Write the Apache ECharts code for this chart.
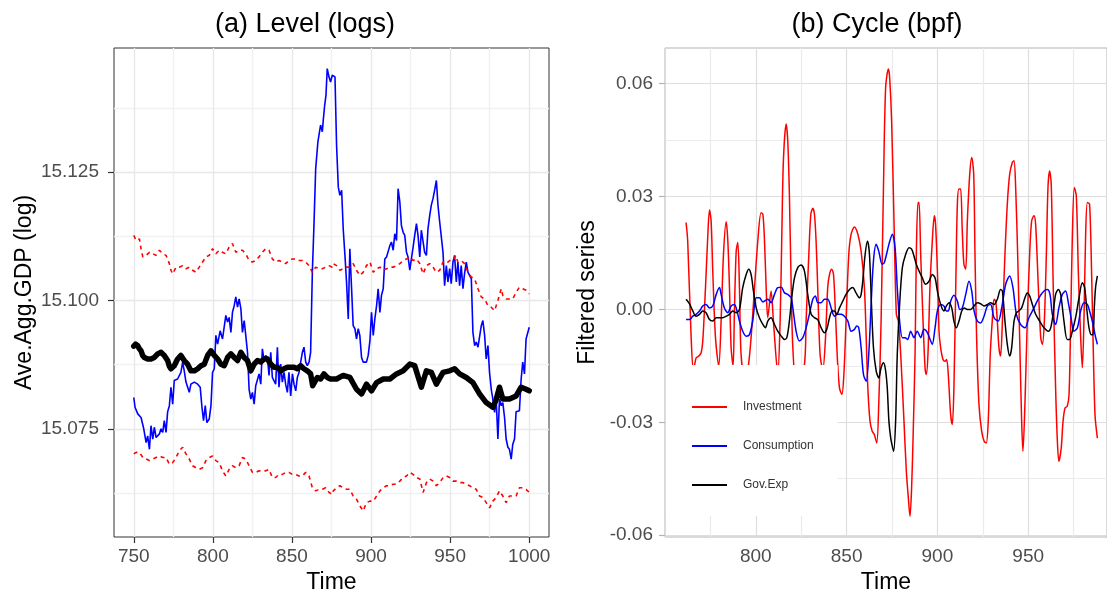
<!DOCTYPE html>
<html>
<head>
<meta charset="utf-8">
<script src="https://cdn.jsdelivr.net/npm/echarts@6/dist/echarts.min.js"></script>
<style>
  html, body { margin: 0; padding: 0; background: #fff; }
  #main { width: 1107px; height: 591px; }
</style>
</head>
<body>
<div id="main"></div>
<script>
// (a) level in logs: [time, value]
const levelBlue = [[750.0,15.0811],[750.8,15.0792],[752.5,15.0779],[754.6,15.0772],[756.3,15.0750],[757.8,15.0723],[758.8,15.0736],[759.9,15.0710],[760.9,15.0756],[762.0,15.0730],[763.0,15.0753],[764.1,15.0733],[766.2,15.0740],[767.2,15.0750],[768.3,15.0743],[769.3,15.0766],[770.4,15.0743],[771.4,15.0783],[772.5,15.0795],[773.5,15.0831],[774.6,15.0798],[775.6,15.0844],[777.7,15.0847],[779.8,15.0860],[780.9,15.0880],[781.9,15.0863],[783.0,15.0841],[784.0,15.0844],[785.1,15.0821],[786.1,15.0837],[788.3,15.0841],[790.4,15.0837],[792.0,15.0831],[793.1,15.0792],[794.1,15.0766],[795.2,15.0795],[796.2,15.0762],[797.7,15.0769],[798.8,15.0795],[799.8,15.0860],[800.9,15.0867],[801.9,15.0932],[803.0,15.0915],[804.6,15.0941],[806.1,15.0925],[808.2,15.0971],[809.3,15.0958],[810.3,15.0967],[811.4,15.0938],[812.4,15.0977],[813.5,15.0990],[814.5,15.1007],[815.6,15.0987],[816.6,15.1003],[817.7,15.0984],[818.7,15.0938],[819.8,15.0961],[820.8,15.0932],[821.9,15.0899],[822.9,15.0827],[824.0,15.0808],[825.0,15.0821],[826.1,15.0798],[827.1,15.0834],[828.2,15.0837],[829.2,15.0857],[830.3,15.0837],[831.3,15.0906],[832.4,15.0883],[833.4,15.0893],[834.5,15.0889],[835.5,15.0854],[836.6,15.0899],[837.6,15.0850],[838.7,15.0847],[839.7,15.0837],[840.8,15.0909],[841.8,15.0831],[842.9,15.0876],[843.9,15.0841],[845.0,15.0860],[846.0,15.0837],[847.1,15.0821],[848.1,15.0860],[849.2,15.0814],[850.3,15.0857],[851.3,15.0837],[852.4,15.0824],[853.4,15.0850],[854.5,15.0860],[855.5,15.0880],[856.6,15.0899],[857.6,15.0909],[858.7,15.0880],[859.7,15.0873],[860.8,15.0880],[861.8,15.0899],[862.9,15.1055],[863.9,15.1146],[865.0,15.1257],[866.4,15.1309],[868.1,15.1342],[869.2,15.1329],[869.8,15.1352],[870.7,15.1381],[871.5,15.1400],[872.3,15.1452],[873.4,15.1436],[874.4,15.1426],[875.5,15.1439],[876.5,15.1436],[877.2,15.1436],[878.2,15.1303],[879.3,15.1221],[880.3,15.1205],[881.4,15.1215],[882.4,15.1140],[883.5,15.1088],[884.5,15.1036],[885.6,15.0964],[886.6,15.1101],[887.7,15.1023],[888.7,15.0951],[889.8,15.0945],[890.8,15.0925],[891.9,15.0945],[892.9,15.0932],[894.0,15.0889],[895.0,15.0880],[896.1,15.0883],[897.1,15.0880],[898.2,15.0893],[899.3,15.0922],[900.3,15.0977],[901.4,15.0932],[902.4,15.0964],[903.5,15.0990],[904.5,15.1023],[905.6,15.0977],[906.6,15.1010],[907.7,15.1023],[908.7,15.1081],[909.8,15.1085],[910.8,15.1088],[911.9,15.1107],[912.9,15.1114],[914.0,15.1098],[915.0,15.1130],[916.1,15.1117],[917.1,15.1218],[918.2,15.1192],[919.2,15.1146],[920.3,15.1133],[921.3,15.1127],[922.4,15.1094],[923.4,15.1085],[924.5,15.1059],[925.5,15.1081],[926.6,15.1104],[927.6,15.1127],[928.7,15.1150],[929.7,15.1127],[930.8,15.1085],[931.8,15.1137],[932.9,15.1137],[933.9,15.1094],[935.0,15.1088],[936.0,15.1140],[937.1,15.1166],[938.1,15.1186],[939.2,15.1199],[940.2,15.1215],[941.3,15.1234],[942.3,15.1186],[943.4,15.1153],[944.4,15.1150],[945.5,15.1094],[946.5,15.1029],[947.6,15.1068],[948.6,15.1036],[949.7,15.1062],[950.7,15.1033],[951.8,15.1075],[952.8,15.1088],[953.9,15.1036],[954.9,15.1075],[956.0,15.1029],[957.0,15.1068],[958.1,15.1023],[959.1,15.1052],[960.2,15.1075],[961.3,15.1055],[962.3,15.1049],[963.4,15.1042],[964.4,15.0938],[965.5,15.0912],[966.5,15.0919],[967.6,15.0909],[968.6,15.0912],[969.7,15.0951],[970.7,15.0961],[971.8,15.0932],[972.8,15.0886],[973.9,15.0912],[974.9,15.0860],[976.0,15.0827],[977.0,15.0808],[978.1,15.0782],[979.1,15.0808],[980.2,15.0730],[981.2,15.0808],[982.3,15.0795],[983.3,15.0801],[984.4,15.0772],[985.4,15.0730],[986.5,15.0714],[987.5,15.0710],[988.6,15.0691],[989.6,15.0720],[990.7,15.0730],[991.7,15.0783],[992.8,15.0785],[993.8,15.0785],[994.9,15.0847],[995.9,15.0880],[997.0,15.0857],[998.0,15.0925],[999.1,15.0928],[1000.0,15.0948]];

const levelBlack = [[750.0,15.0911],[751.2,15.0915],[752.5,15.0912],[753.5,15.0906],[754.6,15.0902],[755.6,15.0893],[756.7,15.0889],[758.8,15.0886],[760.9,15.0886],[763.0,15.0889],[765.1,15.0896],[767.2,15.0899],[769.3,15.0893],[771.4,15.0883],[772.5,15.0872],[773.5,15.0867],[775.6,15.0873],[777.7,15.0886],[779.8,15.0893],[781.9,15.0883],[784.0,15.0876],[786.1,15.0863],[788.3,15.0863],[790.4,15.0867],[792.5,15.0873],[794.6,15.0876],[796.7,15.0893],[798.8,15.0902],[800.9,15.0893],[803.0,15.0886],[805.1,15.0876],[807.2,15.0873],[809.3,15.0889],[811.4,15.0896],[813.5,15.0889],[815.6,15.0883],[817.7,15.0899],[819.8,15.0889],[821.9,15.0883],[824.0,15.0863],[826.1,15.0876],[828.2,15.0883],[830.3,15.0880],[832.4,15.0886],[834.5,15.0886],[836.6,15.0876],[838.7,15.0870],[840.8,15.0870],[842.9,15.0863],[845.0,15.0867],[847.1,15.0870],[849.2,15.0870],[851.3,15.0870],[853.4,15.0867],[855.5,15.0873],[857.6,15.0867],[859.7,15.0863],[861.8,15.0857],[863.1,15.0834],[866.0,15.0850],[868.1,15.0847],[870.2,15.0857],[872.3,15.0850],[874.4,15.0847],[878.2,15.0847],[882.4,15.0854],[886.6,15.0850],[890.8,15.0827],[894.0,15.0818],[897.1,15.0837],[900.3,15.0824],[903.5,15.0840],[907.7,15.0847],[911.9,15.0847],[916.1,15.0857],[920.3,15.0863],[924.5,15.0876],[927.6,15.0873],[931.8,15.0831],[935.0,15.0863],[938.1,15.0860],[941.3,15.0837],[945.5,15.0860],[949.7,15.0863],[952.8,15.0867],[956.0,15.0857],[960.2,15.0850],[964.4,15.0840],[968.6,15.0818],[972.8,15.0801],[977.0,15.0792],[979.0,15.0806],[981.2,15.0831],[983.3,15.0808],[987.5,15.0808],[991.7,15.0814],[994.9,15.0831],[998.0,15.0827],[1000.0,15.0824]];

const bandUpper = [[750.0,15.1127],[751.5,15.1117],[753.6,15.1120],[754.6,15.1101],[755.7,15.1085],[757.8,15.1088],[759.9,15.1094],[762.0,15.1091],[764.1,15.1088],[766.2,15.1098],[768.3,15.1091],[770.4,15.1088],[772.5,15.1072],[773.5,15.1059],[774.6,15.1052],[776.7,15.1065],[778.8,15.1065],[780.9,15.1068],[783.0,15.1062],[785.1,15.1065],[787.2,15.1059],[789.3,15.1055],[791.4,15.1065],[793.5,15.1075],[795.6,15.1085],[797.7,15.1088],[799.8,15.1101],[801.9,15.1091],[804.0,15.1098],[806.1,15.1094],[808.2,15.1091],[810.3,15.1104],[812.4,15.1111],[814.5,15.1094],[816.6,15.1098],[818.7,15.1098],[820.8,15.1091],[822.9,15.1078],[825.0,15.1075],[827.1,15.1078],[829.2,15.1085],[831.3,15.1094],[833.4,15.1101],[835.5,15.1098],[837.6,15.1081],[839.7,15.1075],[841.8,15.1078],[843.9,15.1075],[846.0,15.1072],[848.1,15.1078],[850.3,15.1081],[852.4,15.1081],[854.5,15.1078],[856.6,15.1078],[858.7,15.1075],[860.8,15.1068],[862.9,15.1055],[865.0,15.1065],[867.1,15.1062],[869.2,15.1062],[871.3,15.1065],[873.4,15.1068],[875.5,15.1065],[876.1,15.1072],[878.2,15.1068],[880.3,15.1059],[882.4,15.1062],[884.5,15.1065],[886.6,15.1065],[888.7,15.1072],[890.8,15.1059],[892.9,15.1049],[895.0,15.1055],[897.1,15.1068],[899.3,15.1075],[901.4,15.1055],[903.5,15.1062],[905.6,15.1065],[907.7,15.1059],[909.8,15.1062],[911.9,15.1065],[914.0,15.1065],[916.1,15.1068],[918.2,15.1072],[920.3,15.1078],[922.4,15.1081],[924.5,15.1085],[926.6,15.1078],[928.7,15.1081],[930.8,15.1072],[932.9,15.1052],[935.0,15.1068],[937.1,15.1072],[939.2,15.1065],[941.3,15.1055],[943.4,15.1059],[945.5,15.1075],[947.6,15.1072],[949.7,15.1078],[951.8,15.1078],[953.5,15.1088],[954.9,15.1075],[957.0,15.1078],[959.1,15.1072],[961.3,15.1055],[963.4,15.1046],[965.5,15.1042],[967.6,15.1023],[969.7,15.1007],[971.8,15.1003],[973.9,15.0990],[976.0,15.0987],[978.1,15.0980],[980.2,15.1000],[982.3,15.1023],[983.3,15.1010],[985.4,15.1003],[987.5,15.1003],[989.6,15.1003],[991.7,15.1016],[993.8,15.1026],[995.9,15.1023],[998.0,15.1020],[1000.0,15.1013]];

const bandLower = [[750.0,15.0701],[751.5,15.0704],[753.6,15.0704],[755.7,15.0694],[757.8,15.0691],[759.9,15.0688],[762.0,15.0691],[764.1,15.0694],[766.2,15.0697],[768.3,15.0694],[770.4,15.0694],[772.5,15.0681],[774.6,15.0684],[776.7,15.0694],[778.8,15.0707],[780.9,15.0714],[783.0,15.0701],[785.1,15.0691],[787.2,15.0678],[789.3,15.0674],[791.4,15.0671],[793.5,15.0674],[795.6,15.0688],[797.7,15.0694],[799.8,15.0697],[801.9,15.0688],[804.0,15.0684],[806.1,15.0668],[808.2,15.0658],[810.3,15.0671],[812.4,15.0678],[814.5,15.0674],[816.6,15.0678],[818.7,15.0694],[820.8,15.0691],[822.9,15.0678],[825.0,15.0665],[827.1,15.0665],[829.2,15.0668],[831.3,15.0668],[833.4,15.0668],[835.5,15.0671],[837.6,15.0655],[839.7,15.0655],[841.8,15.0661],[843.9,15.0661],[846.0,15.0665],[848.1,15.0665],[850.3,15.0661],[852.4,15.0661],[854.5,15.0658],[856.6,15.0658],[858.7,15.0665],[860.8,15.0658],[862.9,15.0635],[865.0,15.0629],[867.1,15.0632],[869.2,15.0632],[871.3,15.0635],[873.4,15.0626],[875.5,15.0622],[876.1,15.0629],[878.2,15.0635],[880.3,15.0639],[882.4,15.0635],[884.5,15.0632],[886.6,15.0632],[888.7,15.0619],[890.8,15.0613],[892.9,15.0600],[895.0,15.0590],[897.1,15.0606],[899.3,15.0609],[901.4,15.0609],[903.5,15.0619],[905.6,15.0629],[907.7,15.0635],[909.8,15.0639],[911.9,15.0639],[914.0,15.0642],[916.1,15.0642],[918.2,15.0648],[920.3,15.0655],[922.4,15.0658],[924.5,15.0665],[926.6,15.0661],[928.7,15.0655],[930.8,15.0652],[932.9,15.0626],[935.0,15.0645],[937.1,15.0652],[939.2,15.0648],[941.3,15.0639],[943.4,15.0645],[945.5,15.0655],[947.6,15.0658],[949.7,15.0655],[951.8,15.0648],[953.9,15.0648],[956.0,15.0645],[958.1,15.0645],[960.2,15.0642],[962.3,15.0639],[964.4,15.0635],[966.5,15.0632],[968.6,15.0619],[970.7,15.0616],[972.8,15.0606],[974.9,15.0596],[977.0,15.0609],[979.1,15.0616],[981.2,15.0629],[983.3,15.0619],[985.4,15.0606],[987.5,15.0619],[989.6,15.0619],[991.7,15.0619],[993.8,15.0635],[995.9,15.0635],[998.0,15.0632],[1000.0,15.0626]];

// (b) band-pass filtered cycles: [time, value]
const cycInvest = [[761.6,0.0231],[762.5,0.0182],[764.4,-0.0075],[765.7,-0.0165],[767.1,-0.0129],[768.6,-0.0124],[769.9,-0.0115],[770.8,-0.0084],[772.3,0.0058],[773.6,0.0200],[774.5,0.0264],[775.4,0.0235],[776.3,0.0102],[777.8,-0.0075],[779.6,-0.0150],[780.9,-0.0031],[782.2,0.0146],[783.7,0.0233],[784.6,0.0182],[785.5,0.0058],[786.4,-0.0102],[787.5,-0.0150],[788.2,-0.0013],[789.2,0.0155],[790.1,0.0178],[791.0,0.0058],[791.9,-0.0120],[793.8,-0.0180],[795.6,-0.0160],[797.4,-0.0075],[799.3,0.0058],[801.1,0.0182],[802.9,0.0257],[803.9,0.0253],[804.8,0.0182],[805.7,0.0058],[806.6,-0.0022],[808.4,0.0049],[809.7,-0.0031],[812.1,-0.0170],[813.4,-0.0031],[814.3,0.0191],[815.2,0.0395],[816.7,0.0493],[817.6,0.0448],[818.5,0.0306],[819.5,0.0058],[820.4,-0.0102],[822.2,-0.0200],[824.0,-0.0180],[826.8,-0.0146],[827.7,-0.0031],[829.2,0.0146],[830.3,0.0253],[831.4,0.0269],[832.3,0.0253],[833.2,0.0182],[834.1,0.0058],[835.4,-0.0120],[836.9,-0.0160],[838.4,-0.0075],[839.6,0.0058],[840.6,0.0093],[841.8,0.0107],[842.8,0.0093],[843.9,-0.0013],[845.0,-0.0138],[846.1,-0.0209],[847.4,-0.0226],[848.5,-0.0173],[849.7,-0.0031],[851.2,0.0146],[852.5,0.0200],[854.3,0.0219],[856.2,0.0200],[858.0,0.0155],[859.8,0.0058],[860.8,-0.0075],[861.7,-0.0209],[862.9,-0.0297],[864.1,-0.0324],[865.3,-0.0333],[866.6,-0.0355],[867.7,-0.0253],[869.0,-0.0031],[870.3,0.0324],[871.5,0.0590],[873.0,0.0639],[873.7,0.0617],[874.8,0.0501],[876.1,0.0235],[877.4,-0.0013],[878.5,-0.0031],[879.8,-0.0120],[881.6,-0.0297],[882.9,-0.0430],[884.0,-0.0501],[884.9,-0.0550],[885.8,-0.0475],[886.6,-0.0342],[887.7,-0.0120],[888.4,0.0146],[889.3,0.0284],[889.9,0.0284],[890.8,0.0146],[892.1,-0.0031],[893.2,-0.0155],[893.9,-0.0173],[894.8,-0.0120],[895.9,0.0058],[897.2,0.0182],[898.3,0.0249],[899.0,0.0226],[900.0,0.0102],[900.9,-0.0058],[901.8,-0.0102],[903.1,-0.0133],[904.2,-0.0138],[905.1,-0.0133],[906.0,-0.0173],[907.3,-0.0280],[908.2,-0.0306],[909.1,-0.0209],[910.1,0.0058],[911.0,0.0280],[911.9,0.0320],[912.8,0.0320],[913.7,0.0209],[914.6,0.0120],[915.6,0.0107],[916.5,0.0235],[917.8,0.0359],[918.9,0.0404],[920.0,0.0359],[920.7,0.0146],[921.6,-0.0075],[922.9,-0.0253],[924.4,-0.0324],[925.8,-0.0351],[926.9,-0.0355],[928.0,-0.0297],[929.1,-0.0120],[930.2,-0.0031],[931.2,0.0027],[932.1,0.0022],[933.0,-0.0031],[933.9,-0.0102],[934.8,-0.0124],[935.8,-0.0031],[937.2,0.0146],[938.5,0.0280],[939.8,0.0359],[941.3,0.0391],[942.2,0.0395],[943.1,0.0324],[944.2,0.0146],[945.3,-0.0075],[946.4,-0.0297],[947.1,-0.0377],[948.2,-0.0253],[949.5,-0.0031],[950.8,0.0146],[951.9,0.0235],[953.2,0.0249],[954.1,0.0226],[955.6,0.0058],[956.9,-0.0075],[957.8,-0.0093],[958.9,-0.0031],[960.0,0.0146],[960.9,0.0324],[961.8,0.0368],[962.7,0.0333],[963.8,0.0058],[965.1,-0.0209],[966.0,-0.0342],[966.9,-0.0404],[968.2,-0.0368],[969.2,-0.0297],[970.3,-0.0262],[971.5,-0.0257],[972.5,-0.0226],[973.4,-0.0031],[974.3,0.0191],[975.4,0.0324],[976.5,0.0302],[977.6,0.0102],[978.9,-0.0075],[979.8,-0.0155],[980.7,-0.0031],[981.6,0.0191],[982.6,0.0284],[983.8,0.0280],[984.9,0.0102],[985.7,-0.0075],[986.8,-0.0280],[988.1,-0.0342]];

const cycCons = [[761.6,-0.0027],[763.5,-0.0027],[765.3,-0.0018],[767.1,-0.0013],[769.0,-0.0004],[770.8,0.0009],[772.6,0.0013],[774.5,0.0004],[776.3,0.0009],[778.2,0.0040],[780.0,0.0058],[780.9,0.0040],[782.7,0.0004],[784.6,-0.0009],[786.4,0.0009],[788.2,0.0013],[789.2,0.0004],[791.0,-0.0031],[792.8,-0.0058],[794.7,-0.0071],[796.5,-0.0067],[798.3,-0.0031],[800.2,0.0031],[802.0,0.0031],[803.9,0.0020],[806.6,0.0027],[808.4,0.0018],[810.3,0.0040],[812.1,0.0058],[814.0,0.0059],[815.8,0.0044],[817.6,0.0040],[819.5,0.0031],[820.4,0.0004],[822.2,-0.0058],[824.0,-0.0084],[825.9,-0.0075],[827.7,-0.0049],[829.5,-0.0013],[831.4,0.0027],[832.8,0.0036],[834.1,0.0018],[836.0,0.0018],[837.8,0.0027],[839.6,0.0027],[841.5,0.0004],[843.3,-0.0018],[845.2,-0.0013],[847.0,-0.0013],[848.8,-0.0018],[850.7,-0.0031],[852.5,-0.0058],[854.3,-0.0053],[855.6,-0.0044],[856.7,-0.0049],[858.0,-0.0102],[859.3,-0.0173],[860.8,-0.0191],[862.2,-0.0120],[863.5,0.0013],[864.8,0.0129],[866.3,0.0173],[867.7,0.0155],[869.6,0.0120],[870.8,0.0125],[873.3,0.0173],[875.2,0.0200],[876.7,0.0164],[877.9,0.0058],[879.2,-0.0031],[880.7,-0.0075],[882.2,-0.0075],[883.6,-0.0080],[885.3,-0.0058],[887.1,-0.0075],[888.9,-0.0058],[890.8,-0.0075],[892.6,-0.0053],[894.5,-0.0062],[896.3,-0.0084],[897.2,-0.0093],[898.7,-0.0049],[900.0,-0.0004],[901.8,0.0013],[903.6,0.0009],[904.9,-0.0004],[906.0,-0.0004],[907.3,0.0022],[909.1,0.0038],[911.0,0.0022],[912.3,0.0000],[913.7,0.0004],[915.6,0.0040],[917.4,0.0075],[918.9,0.0049],[920.2,-0.0004],[922.0,-0.0031],[923.8,-0.0036],[925.7,-0.0018],[927.5,0.0009],[929.3,0.0013],[931.2,-0.0022],[933.5,-0.0031],[935.4,0.0004],[937.6,0.0067],[939.8,0.0089],[941.6,0.0058],[943.5,-0.0013],[945.8,-0.0040],[948.2,-0.0049],[950.4,-0.0022],[953.2,0.0004],[955.9,0.0031],[958.7,0.0049],[960.5,0.0053],[962.0,0.0040],[963.3,-0.0013],[965.1,-0.0040],[966.9,0.0004],[968.8,0.0040],[970.6,0.0049],[972.1,0.0018],[973.6,-0.0022],[975.2,-0.0058],[977.1,-0.0049],[978.9,-0.0004],[980.7,0.0018],[982.6,0.0013],[983.8,-0.0004],[985.3,-0.0031],[986.8,-0.0067],[988.1,-0.0093]];

const cycGov = [[761.6,0.0027],[763.5,0.0015],[765.3,-0.0004],[767.1,-0.0018],[769.0,-0.0013],[770.8,-0.0004],[772.6,-0.0009],[774.5,-0.0027],[776.3,-0.0031],[778.2,-0.0022],[780.0,-0.0022],[781.8,-0.0022],[783.7,-0.0018],[785.5,-0.0013],[787.3,-0.0004],[789.2,-0.0009],[791.0,0.0000],[792.8,0.0058],[794.7,0.0093],[796.1,0.0107],[797.4,0.0093],[798.7,0.0049],[800.2,0.0004],[802.0,-0.0022],[803.9,-0.0040],[805.3,-0.0049],[806.6,-0.0031],[808.4,-0.0022],[810.3,-0.0040],[812.1,-0.0058],[814.0,-0.0071],[815.8,-0.0080],[817.1,-0.0075],[818.5,-0.0031],[820.0,0.0040],[821.3,0.0084],[823.1,0.0111],[825.0,0.0118],[826.8,0.0102],[828.6,0.0040],[830.5,-0.0013],[832.3,-0.0022],[834.1,-0.0027],[836.0,-0.0049],[837.8,-0.0062],[839.1,-0.0053],[840.6,-0.0022],[842.0,-0.0004],[843.3,-0.0004],[844.6,-0.0013],[846.1,0.0004],[847.9,0.0022],[849.7,0.0040],[851.6,0.0053],[853.4,0.0058],[855.2,0.0044],[857.1,0.0031],[858.0,0.0040],[858.9,0.0075],[860.2,0.0146],[861.5,0.0182],[862.6,0.0146],[863.7,0.0013],[864.8,-0.0102],[866.3,-0.0164],[867.7,-0.0182],[869.0,-0.0155],[870.3,-0.0142],[871.4,-0.0160],[872.4,-0.0209],[873.3,-0.0297],[874.3,-0.0342],[875.2,-0.0364],[875.9,-0.0377],[877.0,-0.0297],[877.9,-0.0120],[879.2,0.0013],[880.7,0.0111],[882.5,0.0146],[884.4,0.0164],[885.8,0.0160],[887.1,0.0142],[888.4,0.0120],[889.9,0.0102],[891.7,0.0084],[893.5,0.0067],[895.4,0.0075],[897.2,0.0093],[898.7,0.0084],[900.0,0.0049],[901.8,0.0013],[903.6,-0.0004],[904.9,0.0009],[906.4,0.0018],[907.9,0.0004],[909.1,-0.0031],[910.4,-0.0049],[911.9,-0.0031],[913.4,-0.0004],[914.8,0.0004],[916.5,0.0000],[918.3,0.0000],[920.2,0.0009],[922.0,0.0018],[923.8,0.0015],[925.7,0.0009],[927.5,0.0013],[929.3,0.0018],[931.2,0.0013],[933.0,0.0027],[934.8,0.0053],[935.8,0.0049],[937.2,-0.0031],[938.5,-0.0093],[939.8,-0.0124],[940.9,-0.0102],[942.2,-0.0031],[943.5,-0.0009],[944.9,-0.0004],[946.4,0.0004],[948.2,0.0031],[949.5,0.0044],[950.8,0.0036],[952.3,0.0013],[954.1,-0.0013],[956.3,-0.0031],[958.7,-0.0049],[961.1,-0.0058],[962.4,-0.0049],[963.7,-0.0013],[965.1,0.0040],[966.6,0.0053],[967.9,0.0040],[969.7,-0.0031],[971.5,-0.0080],[972.8,-0.0080],[974.3,-0.0058],[976.1,-0.0022],[978.0,0.0031],[979.8,0.0071],[981.1,0.0058],[982.2,0.0004],[983.5,-0.0049],[984.8,-0.0067],[985.7,-0.0067],[986.4,0.0004],[987.1,0.0058],[988.1,0.0089]];

const levelTicksX = [750, 800, 850, 900, 950, 1000];
const levelTicksY = [15.075, 15.100, 15.125];
const cycleTicksX = [800, 850, 900, 950];
const cycleTicksY = [-0.06, -0.03, 0, 0.03, 0.06];
const cycleNames = ['Investment', 'Consumption', 'Gov.Exp'];

const FONT = '"Liberation Sans", Arial, Helvetica, sans-serif';
const NONE = 'rgba(0,0,0,0)';

// split lines come every `interval`; colour them in turn so only the ggplot lines show
function gridColors(n, marks) {
  const out = [];
  for (let i = 0; i < n; i++) out.push(marks[i] || NONE);
  return out;
}

const chart = echarts.init(document.getElementById('main'), null, { renderer: 'canvas' });

const lvlMin = 15.05390625, lvlMax = 15.14921875;
const cycMin = -0.0605, cycMax = 0.0695;

function gridAxis(gridIndex, min, max, interval, colors, width) {
  return {
    type: 'value', gridIndex, min, max, interval,
    axisLine: { show: false }, axisTick: { show: false }, axisLabel: { show: false },
    splitLine: { show: true, lineStyle: { color: colors, width } }
  };
}

const tickLabel = { fontSize: 19, color: '#4d4d4d', fontFamily: FONT };
const axisName = { fontSize: 23, color: '#000', fontFamily: FONT };

const option = {
  animation: false,
  backgroundColor: '#fff',
  textStyle: { fontFamily: FONT },
  graphic: [
    { type: 'text', x: 305, y: 25, style: { text: '(a) Level (logs)', fontSize: 27, fontFamily: FONT, fill: '#000', align: 'center', verticalAlign: 'middle' } },
    { type: 'text', x: 877, y: 25, style: { text: '(b) Cycle (bpf)', fontSize: 27, fontFamily: FONT, fill: '#000', align: 'center', verticalAlign: 'middle' } }
  ],
  grid: [
    { left: 114, top: 48, width: 435, height: 489, outerBoundsMode: 'none', containLabel: false,
      show: true, borderColor: '#333333', borderWidth: 1, backgroundColor: NONE },
    { left: 665, top: 48, width: 442, height: 489, outerBoundsMode: 'none', containLabel: false,
      show: true, borderColor: '#b3b3b3', borderWidth: 1, backgroundColor: NONE }
  ],
  legend: {
    data: cycleNames.map(n => ({ name: n, icon: 'rect' })),
    orient: 'vertical',
    left: 666, top: 365,
    backgroundColor: '#fff',
    padding: [35, 24, 24, 26],
    itemWidth: 35, itemHeight: 2, itemGap: 25,
    textStyle: { fontSize: 12, lineHeight: 14, color: '#333', fontFamily: FONT, padding: [0, 0, 0, 11] }
  },
  xAxis: [
    gridAxis(0, 737.5, 1012.5, 12.5, gridColors(4, { 1: '#e8e8e8', 3: '#f1f1f1' }), 1.4),
    {
      type: 'value', gridIndex: 0, min: 737.5, max: 1012.5, position: 'bottom',
      axisLine: { show: false },
      axisTick: { show: true, length: 6, customValues: levelTicksX, lineStyle: { color: '#333', width: 1.2 } },
      axisLabel: Object.assign({ customValues: levelTicksX, margin: 10, formatter: v => String(v) }, tickLabel),
      splitLine: { show: false },
      name: 'Time', nameLocation: 'middle', nameGap: 31, nameTextStyle: axisName
    },
    gridAxis(1, 750, 993.4, 12.5, gridColors(4, { 0: '#dedede', 2: '#ebebeb' }), 1.2),
    {
      type: 'value', gridIndex: 1, min: 750, max: 993.4, position: 'bottom',
      axisLine: { show: false },
      axisTick: { show: true, length: 6, customValues: cycleTicksX, lineStyle: { color: '#b3b3b3', width: 1.2 } },
      axisLabel: Object.assign({ customValues: cycleTicksX, margin: 10, formatter: v => String(v) }, tickLabel),
      splitLine: { show: false },
      name: 'Time', nameLocation: 'middle', nameGap: 31, nameTextStyle: axisName
    }
  ],
  yAxis: [
    gridAxis(0, lvlMin, lvlMax, 0.00078125, gridColors(32, { 11: '#f1f1f1', 27: '#e8e8e8' }), 1.4),
    {
      type: 'value', gridIndex: 0, min: lvlMin, max: lvlMax, position: 'left',
      axisLine: { show: false },
      axisTick: { show: true, length: 6, customValues: levelTicksY, lineStyle: { color: '#333', width: 1.2 } },
      axisLabel: Object.assign({ customValues: levelTicksY, margin: 15, formatter: v => v.toFixed(3) }, tickLabel),
      splitLine: { show: false },
      name: 'Ave.Agg.GDP (log)', nameLocation: 'middle', nameGap: 78, nameTextStyle: axisName
    },
    gridAxis(1, cycMin, cycMax, 0.0005, gridColors(60, { 1: '#dedede', 31: '#ebebeb' }), 1.2),
    {
      type: 'value', gridIndex: 1, min: cycMin, max: cycMax, position: 'left',
      axisLine: { show: false },
      axisTick: { show: true, length: 6, customValues: cycleTicksY, lineStyle: { color: '#b3b3b3', width: 1.2 } },
      axisLabel: Object.assign({ customValues: cycleTicksY, margin: 12, formatter: v => v.toFixed(2) }, tickLabel),
      splitLine: { show: false },
      name: 'Filtered series', nameLocation: 'middle', nameGap: 66, nameTextStyle: axisName
    }
  ],
  series: [
    { name: 'lvl-blue', type: 'line', xAxisIndex: 0, yAxisIndex: 0, data: levelBlue, symbol: 'none',
      lineStyle: { color: '#0000ff', width: 1.6 } },
    { name: 'lvl-upper', type: 'line', xAxisIndex: 0, yAxisIndex: 0, data: bandUpper, symbol: 'none',
      lineStyle: { color: '#ff0000', width: 1.6, type: [4, 4] } },
    { name: 'lvl-lower', type: 'line', xAxisIndex: 0, yAxisIndex: 0, data: bandLower, symbol: 'none',
      lineStyle: { color: '#ff0000', width: 1.6, type: [4, 4] } },
    { name: 'lvl-black', type: 'line', xAxisIndex: 0, yAxisIndex: 0, data: levelBlack, symbol: 'none',
      lineStyle: { color: '#000000', width: 5.5, join: 'round', cap: 'round' } },
    { name: cycleNames[0], type: 'line', xAxisIndex: 2, yAxisIndex: 2, data: cycInvest, symbol: 'none', smooth: 0.3,
      color: '#ff0000', lineStyle: { color: '#ff0000', width: 1.5 } },
    { name: cycleNames[1], type: 'line', xAxisIndex: 2, yAxisIndex: 2, data: cycCons, symbol: 'none', smooth: 0.3,
      color: '#0000ff', lineStyle: { color: '#0000ff', width: 1.5 } },
    { name: cycleNames[2], type: 'line', xAxisIndex: 2, yAxisIndex: 2, data: cycGov, symbol: 'none', smooth: 0.3,
      color: '#000000', lineStyle: { color: '#000000', width: 1.5 } }
  ]
};

chart.setOption(option);
</script>
</body>
</html>
